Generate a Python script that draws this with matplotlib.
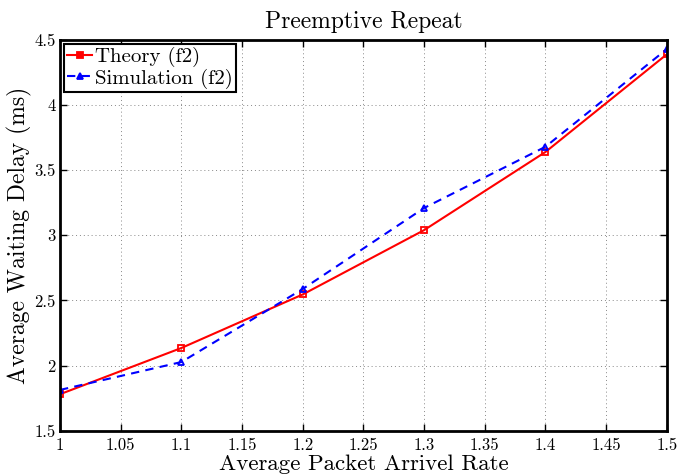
import matplotlib
matplotlib.use("Agg")
import matplotlib.pyplot as plt

rate = [1.0, 1.1, 1.2, 1.3, 1.4, 1.5]
theory = [1.78, 2.135, 2.546, 3.04, 3.64, 4.39]
simulation = [1.813, 2.027, 2.588, 3.21, 3.68, 4.43]
xticks = [1, 1.05, 1.1, 1.15, 1.2, 1.25, 1.3, 1.35, 1.4, 1.45, 1.5]
xtick_labels = ["1", "1.05", "1.1", "1.15", "1.2", "1.25", "1.3", "1.35", "1.4", "1.45", "1.5"]
yticks = [1.5, 2, 2.5, 3, 3.5, 4, 4.5]
ytick_labels = ["1.5", "2", "2.5", "3", "3.5", "4", "4.5"]

plt.rcParams["font.family"] = ["cmr10", "DejaVu Serif"]
plt.rcParams["axes.formatter.use_mathtext"] = True

fig = plt.figure(figsize=(6.79, 4.74), dpi=100)
ax = fig.add_axes([0.0884, 0.0914, 0.8936, 0.8242])

ax.plot(rate, theory, "-s", color="red", lw=1.5, ms=4.5, mfc="none", mec="red",
        mew=1.3, label="Theory (f2)")
ax.plot(rate, simulation, "--^", color="blue", lw=1.5, ms=5, mfc="none", mec="blue",
        mew=1.3, dashes=(4, 3), label="Simulation (f2)")

ax.set_xlim(1, 1.5)
ax.set_ylim(1.5, 4.5)
ax.set_xticks(xticks)
ax.set_xticklabels(xtick_labels)
ax.set_yticks(yticks)
ax.set_yticklabels(ytick_labels)
ax.tick_params(direction="in", top=True, right=True, length=5, width=1,
               labelsize=12)
ax.tick_params(axis="x", pad=5)
ax.tick_params(axis="y", pad=3)
ax.grid(True, linestyle=(0, (1, 3)), color="#888888", lw=0.7)
for s in ax.spines.values():
    s.set_linewidth(2)
    s.set_color("black")

ax.set_title("Preemptive Repeat", fontsize=17, pad=9)
ax.set_xlabel("Average Packet Arrivel Rate", fontsize=16.5, labelpad=1)
ax.set_ylabel("Average Waiting Delay (ms)", fontsize=17, labelpad=2)

leg = ax.legend(loc="upper left", fontsize=15, fancybox=False, framealpha=1,
                edgecolor="black", borderpad=0.15, handlelength=1.2,
                handletextpad=0.15, labelspacing=0.05, borderaxespad=0.2)
for h in leg.legend_handles:
    h.set_markerfacecolor(h.get_color())
    h.set_markersize(4)
leg.get_frame().set_linewidth(1.5)

fig.savefig("out.png", dpi=100)
